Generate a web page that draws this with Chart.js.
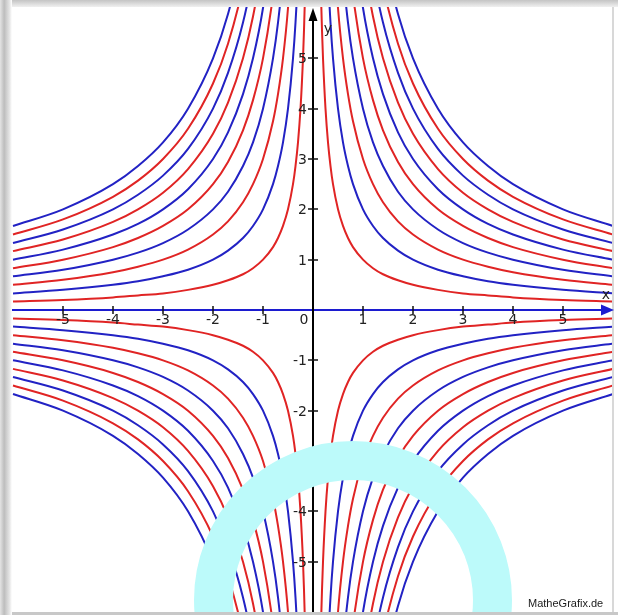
<!DOCTYPE html>
<html>
<head>
<meta charset="utf-8">
<script src="https://cdn.jsdelivr.net/npm/chart.js@4.4.1/dist/chart.umd.min.js"></script>
<style>
  html, body { margin: 0; padding: 0; background: #fff; }
  canvas { display: block; }
</style>
</head>
<body>
<canvas id="myChart" width="618" height="615"></canvas>
<script>
// x positions where each branch is read (positive side, mirrored for the other quadrants)
const xSamples = [0.16, 0.18, 0.2, 0.25, 0.3, 0.35, 0.4, 0.5, 0.6, 0.7, 0.8, 1, 1.2, 1.4, 1.7, 2, 2.5, 3, 3.5, 4, 5, 6];

// |y| of each curve at those x positions
const curve1 = [6.25, 5.56, 5, 4, 3.33, 2.86, 2.5, 2, 1.67, 1.43, 1.25, 1, 0.83, 0.71, 0.59, 0.5, 0.4, 0.33, 0.29, 0.25, 0.2, 0.17];
const curve2 = [12.5, 11.11, 10, 8, 6.67, 5.71, 5, 4, 3.33, 2.86, 2.5, 2, 1.67, 1.43, 1.18, 1, 0.8, 0.67, 0.57, 0.5, 0.4, 0.33];
const curve3 = [18.75, 16.67, 15, 12, 10, 8.57, 7.5, 6, 5, 4.29, 3.75, 3, 2.5, 2.14, 1.76, 1.5, 1.2, 1, 0.86, 0.75, 0.6, 0.5];
const curve4 = [25, 22.22, 20, 16, 13.33, 11.43, 10, 8, 6.67, 5.71, 5, 4, 3.33, 2.86, 2.35, 2, 1.6, 1.33, 1.14, 1, 0.8, 0.67];
const curve5 = [31.25, 27.78, 25, 20, 16.67, 14.29, 12.5, 10, 8.33, 7.14, 6.25, 5, 4.17, 3.57, 2.94, 2.5, 2, 1.67, 1.43, 1.25, 1, 0.83];
const curve6 = [37.5, 33.33, 30, 24, 20, 17.14, 15, 12, 10, 8.57, 7.5, 6, 5, 4.29, 3.53, 3, 2.4, 2, 1.71, 1.5, 1.2, 1];
const curve7 = [43.75, 38.89, 35, 28, 23.33, 20, 17.5, 14, 11.67, 10, 8.75, 7, 5.83, 5, 4.12, 3.5, 2.8, 2.33, 2, 1.75, 1.4, 1.17];
const curve8 = [50, 44.44, 40, 32, 26.67, 22.86, 20, 16, 13.33, 11.43, 10, 8, 6.67, 5.71, 4.71, 4, 3.2, 2.67, 2.29, 2, 1.6, 1.33];
const curve9 = [56.25, 50, 45, 36, 30, 25.71, 22.5, 18, 15, 12.86, 11.25, 9, 7.5, 6.43, 5.29, 4.5, 3.6, 3, 2.57, 2.25, 1.8, 1.5];
const curve10 = [62.5, 55.56, 50, 40, 33.33, 28.57, 25, 20, 16.67, 14.29, 12.5, 10, 8.33, 7.14, 5.88, 5, 4, 3.33, 2.86, 2.5, 2, 1.67];

const curves = [curve1, curve2, curve3, curve4, curve5, curve6, curve7, curve8, curve9, curve10];
const curveColors = ['#e02424', '#2222c4'];

const xTicks = [-5, -4, -3, -2, -1, 1, 2, 3, 4, 5];
const yTicks = [-5, -4, -3, -2, -1, 1, 2, 3, 4, 5];

// quadrant signs
const quadrants = [[1, 1], [-1, 1], [-1, -1], [1, -1]];

const datasets = [];
curves.forEach((ys, n) => {
    quadrants.forEach(q => {
        let pts = xSamples.map((x, i) => ({ x: q[0] * x, y: q[1] * ys[i] }));
        if (q[0] < 0) pts.reverse();
        datasets.push({
            data: pts,
            showLine: true,
            borderColor: curveColors[n % 2],
            borderWidth: 2,
            pointRadius: 0,
            cubicInterpolationMode: 'monotone',
            fill: false,
        });
    });
});

const framePlugin = {
    id: 'frame',
    beforeDraw(chart) {
        const ctx = chart.ctx;
        ctx.save();
        let g = ctx.createLinearGradient(0, 0, 12, 0);
        g.addColorStop(0, '#e4e4e4');
        g.addColorStop(0.35, '#bdbdbd');
        g.addColorStop(0.8, '#e6e6e6');
        g.addColorStop(1, '#ffffff');
        ctx.fillStyle = g;
        ctx.fillRect(0, 0, 12, 615);
        g = ctx.createLinearGradient(0, 0, 0, 7);
        g.addColorStop(0, '#c4c4c4');
        g.addColorStop(1, '#f0f0f0');
        ctx.fillStyle = g;
        ctx.fillRect(12, 0, 606, 7);
        ctx.fillStyle = '#c8c8c8';
        ctx.fillRect(12, 612, 606, 3);
        ctx.fillStyle = '#d8d8d8';
        ctx.fillRect(612, 7, 2, 605);
        ctx.restore();
    }
};

const axesPlugin = {
    id: 'axes',
    afterDatasetsDraw(chart) {
        const ctx = chart.ctx;
        const xs = chart.scales.x, ys = chart.scales.y;
        const area = chart.chartArea;
        const x0 = xs.getPixelForValue(0), y0 = ys.getPixelForValue(0);
        ctx.save();
        // x axis
        ctx.strokeStyle = '#1c1cd0';
        ctx.lineWidth = 2;
        ctx.beginPath();
        ctx.moveTo(area.left, y0);
        ctx.lineTo(area.right - 6, y0);
        ctx.stroke();
        ctx.fillStyle = '#1c1cd0';
        ctx.beginPath();
        ctx.moveTo(area.right + 2, y0);
        ctx.lineTo(area.right - 11, y0 - 5.5);
        ctx.lineTo(area.right - 11, y0 + 5.5);
        ctx.closePath();
        ctx.fill();
        // y axis
        ctx.strokeStyle = '#000';
        ctx.beginPath();
        ctx.moveTo(x0, area.bottom);
        ctx.lineTo(x0, area.top + 8);
        ctx.stroke();
        ctx.fillStyle = '#000';
        ctx.beginPath();
        ctx.moveTo(x0, area.top + 1);
        ctx.lineTo(x0 - 4.5, area.top + 14);
        ctx.lineTo(x0 + 4.5, area.top + 14);
        ctx.closePath();
        ctx.fill();
        // ticks
        ctx.strokeStyle = '#111';
        ctx.lineWidth = 1.5;
        ctx.font = '14px "DejaVu Sans"';
        ctx.fillStyle = '#222';
        xTicks.forEach(t => {
            const px = Math.round(xs.getPixelForValue(t));
            ctx.beginPath();
            ctx.moveTo(px, y0 - 4);
            ctx.lineTo(px, y0 + 4);
            ctx.stroke();
            ctx.textAlign = 'center';
            ctx.textBaseline = 'middle';
            ctx.fillText(String(t).replace('-', '-'), px, y0 + 10);
        });
        yTicks.forEach(t => {
            const py = Math.round(ys.getPixelForValue(t));
            ctx.beginPath();
            ctx.moveTo(x0 - 5, py);
            ctx.lineTo(x0 + 5, py);
            ctx.stroke();
            ctx.textAlign = 'right';
            ctx.textBaseline = 'middle';
            ctx.fillText(String(t), x0 - 6, py + 1);
        });
        ctx.textAlign = 'center';
        ctx.fillText('0', x0 - 9, y0 + 10);
        ctx.fillText('x', area.right - 6, y0 - 15);
        ctx.fillText('y', x0 + 15, area.top + 22);
        ctx.restore();
    },
    afterDraw(chart) {
        const ctx = chart.ctx;
        ctx.save();
        // highlight ring
        ctx.strokeStyle = '#bcfafa';
        ctx.lineWidth = 39;
        ctx.beginPath();
        ctx.arc(353, 600, 139.5, 0, Math.PI * 2);
        ctx.stroke();
        ctx.fillStyle = '#c8c8c8';
        ctx.fillRect(12, 612, 606, 3);
        // watermark
        ctx.fillStyle = '#1a1a1a';
        ctx.font = '11px "Liberation Sans"';
        ctx.textAlign = 'left';
        ctx.textBaseline = 'alphabetic';
        ctx.fillText('MatheGrafix.de', 528, 607);
        ctx.restore();
    }
};

const ctx = document.getElementById('myChart').getContext('2d');
const chart = new Chart(ctx, {
    type: 'scatter',
    data: { datasets: datasets },
    options: {
        responsive: false,
        animation: false,
        devicePixelRatio: 1,
        layout: { padding: { left: 12, right: 6, top: 7, bottom: 3 } },
        scales: {
            x: { type: 'linear', min: -6.02, max: 5.98, display: false },
            y: { type: 'linear', min: -6.0, max: 6.02, display: false },
        },
        plugins: {
            legend: { display: false },
            tooltip: { enabled: false },
        },
    },
    plugins: [framePlugin, axesPlugin],
});
</script>
</body>
</html>
